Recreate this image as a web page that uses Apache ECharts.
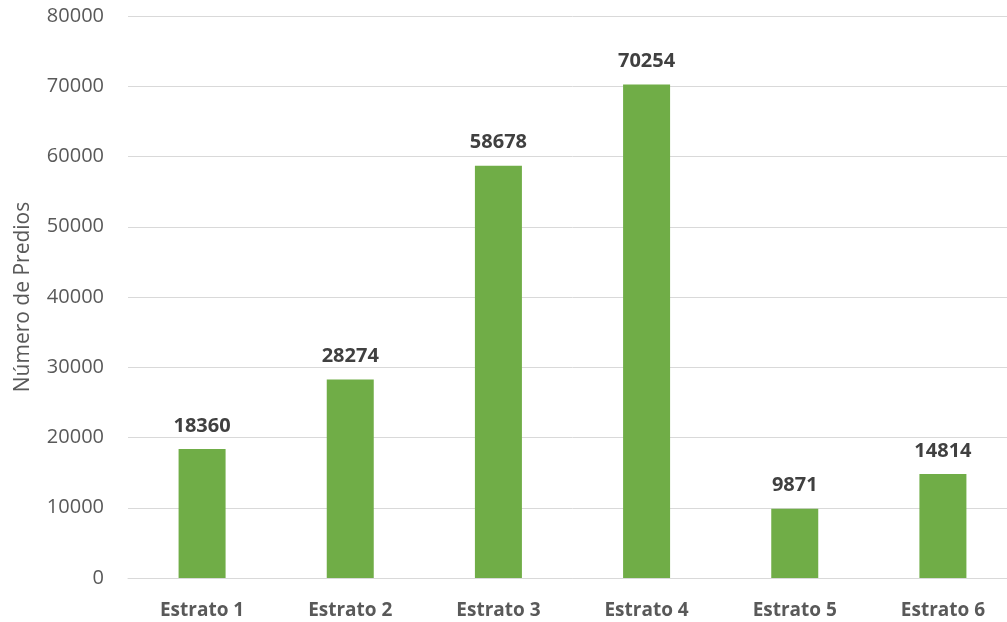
<!DOCTYPE html>
<html><head><meta charset="utf-8">
<script src="https://cdn.jsdelivr.net/npm/echarts@6/dist/echarts.min.js"></script>
<style>html,body{margin:0;padding:0;background:#fff;overflow:hidden;width:1007px;height:622px}#c{width:1017px;height:622px}</style>
</head><body><div id="c"></div>
<script>
const categories = ['Estrato 1','Estrato 2','Estrato 3','Estrato 4','Estrato 5','Estrato 6'];
const values = [18360, 28274, 58678, 70254, 9871, 14814];
const yTicks = {min: 0, max: 80000, interval: 10000};
const chart = echarts.init(document.getElementById('c'));
chart.setOption({
  animation: false,
  grid: {left: 128, right: 0, top: 16, bottom: 44, containLabel: false},
  xAxis: {
    type: 'category', data: categories,
    axisLine: {show: true, lineStyle: {color: '#d9d9d9', width: 1}},
    axisTick: {show: false},
    axisLabel: {color: '#595959', fontFamily: 'Open Sans', fontWeight: 'bold', fontSize: 19, margin: 23}
  },
  yAxis: {
    type: 'value', min: yTicks.min, max: yTicks.max, interval: yTicks.interval,
    name: 'Número de Predios', nameLocation: 'middle', nameGap: 94,
    nameTextStyle: {color: '#595959', fontFamily: 'Open Sans', fontSize: 21},
    axisLine: {show: false}, axisTick: {show: false},
    axisLabel: {color: '#595959', fontFamily: 'Open Sans', fontSize: 20, margin: 24, formatter: v => String(v)},
    splitLine: {lineStyle: {color: '#d9d9d9', width: 1}}
  },
  series: [{
    type: 'bar', data: values, barWidth: 47,
    itemStyle: {color: '#70ad47'},
    label: {show: true, position: 'top', distance: 13, color: '#404040', fontFamily: 'Open Sans', fontWeight: 'bold', fontSize: 20}
  }]
});
</script></body></html>
